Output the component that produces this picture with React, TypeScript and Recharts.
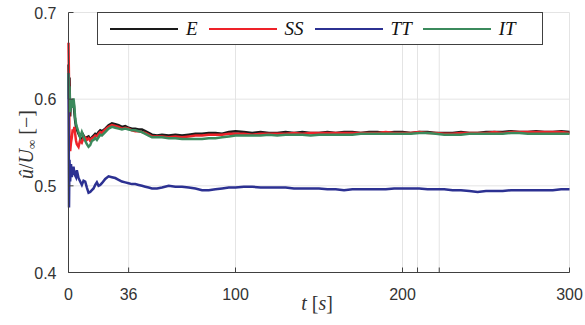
import { CartesianGrid, Legend, Line, LineChart, XAxis, YAxis } from "recharts";

// time axis [s]
const TIME = [
  0, 0.3, 0.6, 1, 1.5, 2, 2.5, 3, 3.5, 4, 4.5, 5,
  6, 7, 8, 9, 10, 11, 12, 13, 14, 15, 16, 17, 18, 19, 20,
  22, 24, 26, 28, 30, 32, 34, 36, 38, 40, 42, 44, 46, 48, 50,
  53, 56,
  60, 64, 68, 72, 76, 80, 84, 88, 92, 96, 100,
  105, 110, 115, 120, 125, 130, 135, 140, 145, 150, 155, 160, 165, 170, 175, 180, 185, 190, 195, 200,
  205, 210, 215, 220, 225, 230, 235, 240, 245, 250, 255, 260, 265, 270, 275, 280, 285, 290, 295, 300
];

const E_VALUES = [
  0.64, 0.6, 0.625, 0.58, 0.6, 0.597, 0.59, 0.598, 0.585, 0.575, 0.568, 0.565,
  0.56, 0.556, 0.552, 0.558, 0.554, 0.556, 0.557, 0.553, 0.556, 0.558, 0.56, 0.559, 0.562, 0.564, 0.563,
  0.566, 0.57, 0.572, 0.571, 0.57, 0.568, 0.569, 0.567, 0.566, 0.566, 0.565, 0.565, 0.563, 0.561, 0.559,
  0.558, 0.559,
  0.558, 0.559, 0.558, 0.559, 0.56, 0.56, 0.561, 0.561, 0.56, 0.562, 0.563,
  0.562, 0.561, 0.562, 0.561, 0.561, 0.562, 0.561, 0.562, 0.561, 0.561, 0.562, 0.561, 0.562, 0.562, 0.561, 0.562, 0.562, 0.561, 0.562, 0.562,
  0.561, 0.562, 0.562, 0.561, 0.561, 0.561, 0.562, 0.561, 0.561, 0.562, 0.562, 0.562, 0.563, 0.562, 0.562, 0.563, 0.562, 0.562, 0.563, 0.562
];

const SS_VALUES = [
  0.665, 0.62, 0.545, 0.54, 0.55, 0.556, 0.565, 0.562, 0.568, 0.56, 0.552, 0.548,
  0.545, 0.553, 0.55, 0.555, 0.556, 0.553, 0.555, 0.552, 0.555, 0.556, 0.558, 0.557, 0.56, 0.562, 0.561,
  0.565, 0.568, 0.57, 0.569, 0.568, 0.566, 0.567, 0.566, 0.564, 0.563, 0.563, 0.562, 0.561, 0.559, 0.557,
  0.557, 0.557,
  0.556, 0.557, 0.556, 0.557, 0.558, 0.558, 0.559, 0.559, 0.559, 0.56, 0.56,
  0.56, 0.559, 0.56, 0.56, 0.56, 0.56, 0.561, 0.56, 0.561, 0.561, 0.561, 0.561, 0.561, 0.561, 0.561, 0.561, 0.561, 0.562, 0.561, 0.561,
  0.561, 0.562, 0.561, 0.561, 0.56, 0.56, 0.561, 0.561, 0.561, 0.561, 0.562, 0.561, 0.562, 0.562, 0.562, 0.562, 0.562, 0.562, 0.562, 0.561
];

const TT_VALUES = [
  0.63, 0.475, 0.53, 0.505, 0.525, 0.51, 0.518, 0.522, 0.515, 0.512, 0.51, 0.518,
  0.509, 0.505, 0.501, 0.506, 0.505, 0.498, 0.492, 0.493, 0.495, 0.497, 0.501, 0.504, 0.5, 0.501, 0.503,
  0.508, 0.511, 0.51, 0.509, 0.507, 0.505, 0.504, 0.503, 0.502, 0.502, 0.501, 0.5, 0.499, 0.498, 0.497,
  0.497, 0.498,
  0.5, 0.499, 0.499, 0.498, 0.497, 0.495, 0.495, 0.496, 0.497, 0.498, 0.498,
  0.499, 0.499, 0.498, 0.498, 0.498, 0.498, 0.497, 0.497, 0.497, 0.497, 0.496, 0.496, 0.495, 0.496, 0.496, 0.496, 0.496, 0.496, 0.497, 0.497,
  0.497, 0.497, 0.496, 0.496, 0.496, 0.495, 0.495, 0.494, 0.493, 0.494, 0.494, 0.494, 0.495, 0.495, 0.495, 0.495, 0.495, 0.495, 0.496, 0.496
];

const IT_VALUES = [
  0.63, 0.6, 0.615, 0.585, 0.595, 0.6, 0.59, 0.601, 0.592, 0.578, 0.572, 0.568,
  0.562, 0.556, 0.562, 0.557, 0.552, 0.548, 0.545, 0.547, 0.552, 0.553, 0.555, 0.553, 0.556, 0.559, 0.558,
  0.562, 0.566, 0.568, 0.567, 0.566, 0.565, 0.566, 0.565, 0.564, 0.564, 0.563, 0.562, 0.56, 0.558, 0.556,
  0.556, 0.556,
  0.555, 0.555, 0.554, 0.554, 0.554, 0.554, 0.555, 0.555, 0.556, 0.557, 0.558,
  0.558, 0.558, 0.558, 0.559, 0.558, 0.559, 0.559, 0.559, 0.558, 0.559, 0.559, 0.559, 0.559, 0.559, 0.56, 0.56, 0.56, 0.56, 0.56, 0.56,
  0.56, 0.561, 0.561, 0.56, 0.559, 0.559, 0.559, 0.56, 0.56, 0.56, 0.56, 0.56, 0.561, 0.561, 0.56, 0.56, 0.56, 0.56, 0.56, 0.56
];

const SERIES_ORDER = ["E", "SS", "TT", "IT"];
const X_TICKS = [0, 36, 100, 200, 209, 222, 300];
const X_LABELED = [0, 36, 100, 200, 300];
const Y_TICKS = [0.4, 0.5, 0.6, 0.7];

const data = TIME.map((t, i) => ({
  t,
  E: E_VALUES[i],
  SS: SS_VALUES[i],
  TT: TT_VALUES[i],
  IT: IT_VALUES[i]
}));

const AXIS = "#404040";
const TEXT = "#333333";
const SANS = "'Liberation Sans', Arial, sans-serif";
const SERIF = "'Liberation Serif', 'DejaVu Serif', serif";

function BottomTick({ x, y, payload }: any) {
  const show = X_LABELED.includes(payload.value);
  return (
    <g>
      <line x1={x} x2={x} y1={y} y2={y - 5} stroke={AXIS} />
      {show && (
        <text x={x} y={y + 27} textAnchor="middle" fill={TEXT} fontSize={16} fontFamily={SANS}>
          {payload.value}
        </text>
      )}
    </g>
  );
}

function TopTick({ x, y }: any) {
  return <line x1={x} x2={x} y1={y} y2={y + 5} stroke={AXIS} />;
}

function LeftTick({ x, y, payload }: any) {
  return (
    <g>
      <line x1={x} x2={x + 5} y1={y} y2={y} stroke={AXIS} />
      <text x={x - 12} y={y + 6} textAnchor="end" fill={TEXT} fontSize={16} fontFamily={SANS}>
        {payload.value.toFixed(1)}
      </text>
    </g>
  );
}

function RightTick({ x, y }: any) {
  return <line x1={x} x2={x - 5} y1={y} y2={y} stroke={AXIS} />;
}

function YLabel({ viewBox }: any) {
  const cx = 26;
  const cy = viewBox.y + viewBox.height / 2 + 2;
  return (
    <text
      x={cx}
      y={cy}
      transform={`rotate(-90, ${cx}, ${cy})`}
      textAnchor="middle"
      dominantBaseline="central"
      fill={TEXT}
      fontSize={20}
      fontFamily={SERIF}
    >
      <tspan fontStyle="italic">û</tspan>
      <tspan>/</tspan>
      <tspan fontStyle="italic">U</tspan>
      <tspan fontSize={13} dy={5}>∞</tspan>
      <tspan dy={-5}> [−]</tspan>
    </text>
  );
}

function XLabel({ viewBox }: any) {
  return (
    <text
      x={viewBox.x + viewBox.width / 2 - 2}
      y={viewBox.y + 37}
      textAnchor="middle"
      fill={TEXT}
      fontSize={20}
      fontFamily={SERIF}
    >
      <tspan fontStyle="italic">t</tspan>
      <tspan> [</tspan>
      <tspan fontStyle="italic">s</tspan>
      <tspan>]</tspan>
    </text>
  );
}

function LegendBox({ payload }: any) {
  const items = SERIES_ORDER.map((name) => (payload || []).find((p: any) => p.value === name)).filter(Boolean);
  return (
    <div
      style={{
        boxSizing: "border-box",
        width: 446,
        height: 33,
        border: `1px solid ${AXIS}`,
        background: "#fff",
        display: "flex",
        alignItems: "center",
        paddingLeft: 12
      }}
    >
      {items.map((entry: any) => (
        <div key={entry.value} style={{ display: "flex", alignItems: "center", marginRight: 11 }}>
          <div style={{ width: 68, height: 2, background: entry.color }} />
          <span
            style={{
              marginLeft: 8,
              fontFamily: SERIF,
              fontStyle: "italic",
              fontSize: 19,
              color: "#111",
              lineHeight: "20px"
            }}
          >
            {entry.value}
          </span>
        </div>
      ))}
    </div>
  );
}

export default function App() {
  return (
    <div>
      <style>{"body{margin:0}"}</style>
      <LineChart
        width={585}
        height={325}
        data={data}
        margin={{ top: 12.5, right: 15.5, bottom: 22.5, left: 0 }}
      >
        <CartesianGrid stroke="#e4e4e4" />
        <XAxis
          dataKey="t"
          type="number"
          domain={[0, 300]}
          ticks={X_TICKS}
          interval={0}
          tickSize={0}
          tickMargin={0}
          height={30}
          stroke={AXIS}
          tick={<BottomTick />}
          label={<XLabel />}
        />
        <XAxis
          xAxisId="top"
          orientation="top"
          dataKey="t"
          type="number"
          domain={[0, 300]}
          ticks={X_TICKS}
          interval={0}
          tickSize={0}
          tickMargin={0}
          height={0}
          stroke={AXIS}
          tick={<TopTick />}
        />
        <YAxis
          type="number"
          domain={[0.4, 0.7]}
          ticks={Y_TICKS}
          interval={0}
          tickSize={0}
          tickMargin={0}
          width={68.5}
          stroke={AXIS}
          tick={<LeftTick />}
          label={<YLabel />}
        />
        <YAxis
          yAxisId="right"
          orientation="right"
          type="number"
          domain={[0.4, 0.7]}
          ticks={Y_TICKS}
          interval={0}
          tickSize={0}
          tickMargin={0}
          width={0}
          stroke={AXIS}
          tick={<RightTick />}
        />
        <Legend
          layout="horizontal"
          verticalAlign="middle"
          align="center"
          wrapperStyle={{ left: 97, top: 12, width: 446, height: 33 }}
          content={<LegendBox />}
        />
        <Line dataKey="E" name="E" stroke="#1a1a1a" strokeWidth={2.5} dot={false} isAnimationActive={false} />
        <Line dataKey="SS" name="SS" stroke="#ee2229" strokeWidth={2.5} dot={false} isAnimationActive={false} />
        <Line dataKey="TT" name="TT" stroke="#2c3192" strokeWidth={2.5} dot={false} isAnimationActive={false} />
        <Line dataKey="IT" name="IT" stroke="#3b8a5c" strokeWidth={2.5} dot={false} isAnimationActive={false} />
      </LineChart>
    </div>
  );
}
